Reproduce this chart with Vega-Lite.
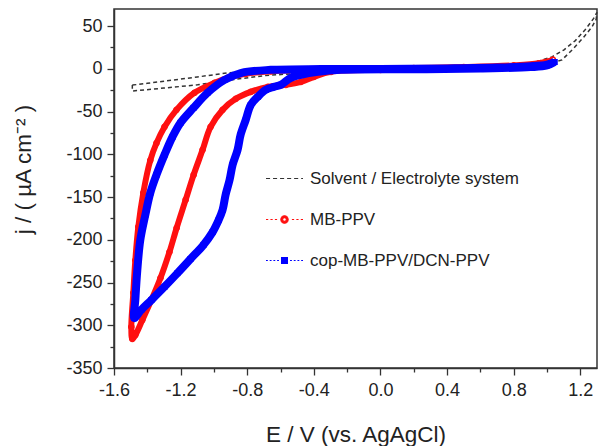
{
  "$schema": "https://vega.github.io/schema/vega-lite/v6.json",
  "width": 483,
  "height": 359,
  "autosize": {"type": "none"},
  "padding": {"left": 114, "top": 9, "right": 12, "bottom": 78},
  "background": "white",
  "config": {
    "font": "Liberation Sans",
    "view": {"stroke": "#333333", "strokeWidth": 1.5},
    "axis": {
      "grid": false,
      "domainColor": "#333333",
      "domainWidth": 1.5,
      "tickColor": "#333333",
      "tickWidth": 1.3,
      "labelColor": "#222222",
      "labelFont": "Liberation Sans",
      "labelFontSize": 18,
      "titleFont": "Liberation Sans",
      "titleFontSize": 22.5,
      "titleFontWeight": "normal",
      "titleColor": "#222222"
    },
    "legend": {"labelFont": "Liberation Sans"}
  },
  "data": {
    "values": [
      {"series": "Solvent / Electrolyte system", "k": 0, "E": -1.49, "j": -19},
      {"series": "Solvent / Electrolyte system", "k": 1, "E": -1.40, "j": -17},
      {"series": "Solvent / Electrolyte system", "k": 2, "E": -1.30, "j": -14.5},
      {"series": "Solvent / Electrolyte system", "k": 3, "E": -1.20, "j": -12},
      {"series": "Solvent / Electrolyte system", "k": 4, "E": -1.10, "j": -9.5},
      {"series": "Solvent / Electrolyte system", "k": 5, "E": -1.00, "j": -7},
      {"series": "Solvent / Electrolyte system", "k": 6, "E": -0.916, "j": -4.7},
      {"series": "Solvent / Electrolyte system", "k": 7, "E": -0.80, "j": -3},
      {"series": "Solvent / Electrolyte system", "k": 8, "E": -0.60, "j": -1.5},
      {"series": "Solvent / Electrolyte system", "k": 9, "E": -0.30, "j": -0.5},
      {"series": "Solvent / Electrolyte system", "k": 10, "E": 0.0, "j": 0.5},
      {"series": "Solvent / Electrolyte system", "k": 11, "E": 0.4, "j": 1.5},
      {"series": "Solvent / Electrolyte system", "k": 12, "E": 0.7, "j": 3},
      {"series": "Solvent / Electrolyte system", "k": 13, "E": 0.9, "j": 6},
      {"series": "Solvent / Electrolyte system", "k": 14, "E": 1.03, "j": 14},
      {"series": "Solvent / Electrolyte system", "k": 15, "E": 1.10, "j": 22},
      {"series": "Solvent / Electrolyte system", "k": 16, "E": 1.17, "j": 33},
      {"series": "Solvent / Electrolyte system", "k": 17, "E": 1.23, "j": 46},
      {"series": "Solvent / Electrolyte system", "k": 18, "E": 1.28, "j": 59},
      {"series": "Solvent / Electrolyte system", "k": 19, "E": 1.30, "j": 66},
      {"series": "Solvent / Electrolyte system", "k": 20, "E": 1.295, "j": 58},
      {"series": "Solvent / Electrolyte system", "k": 21, "E": 1.27, "j": 49},
      {"series": "Solvent / Electrolyte system", "k": 22, "E": 1.22, "j": 37},
      {"series": "Solvent / Electrolyte system", "k": 23, "E": 1.16, "j": 24},
      {"series": "Solvent / Electrolyte system", "k": 24, "E": 1.09, "j": 10.5},
      {"series": "Solvent / Electrolyte system", "k": 25, "E": 1.0, "j": 5},
      {"series": "Solvent / Electrolyte system", "k": 26, "E": 0.8, "j": 2},
      {"series": "Solvent / Electrolyte system", "k": 27, "E": 0.4, "j": 0},
      {"series": "Solvent / Electrolyte system", "k": 28, "E": 0.0, "j": -1.5},
      {"series": "Solvent / Electrolyte system", "k": 29, "E": -0.4, "j": -4},
      {"series": "Solvent / Electrolyte system", "k": 30, "E": -0.7, "j": -8},
      {"series": "Solvent / Electrolyte system", "k": 31, "E": -0.9, "j": -13},
      {"series": "Solvent / Electrolyte system", "k": 32, "E": -1.098, "j": -18.7},
      {"series": "Solvent / Electrolyte system", "k": 33, "E": -1.30, "j": -22.5},
      {"series": "Solvent / Electrolyte system", "k": 34, "E": -1.49, "j": -26},
      {"series": "Solvent / Electrolyte system", "k": 35, "E": -1.49, "j": -19},

      {"series": "MB-PPV", "k": 0, "E": 1.035, "j": 10.5},
      {"series": "MB-PPV", "k": 1, "E": 0.95, "j": 6.5},
      {"series": "MB-PPV", "k": 2, "E": 0.8, "j": 4},
      {"series": "MB-PPV", "k": 3, "E": 0.5, "j": 2},
      {"series": "MB-PPV", "k": 4, "E": 0.2, "j": 1},
      {"series": "MB-PPV", "k": 5, "E": -0.1, "j": 0.3},
      {"series": "MB-PPV", "k": 6, "E": -0.4, "j": -0.8},
      {"series": "MB-PPV", "k": 7, "E": -0.658, "j": -2.9},
      {"series": "MB-PPV", "k": 8, "E": -0.809, "j": -5.9},
      {"series": "MB-PPV", "k": 9, "E": -0.918, "j": -10.5},
      {"series": "MB-PPV", "k": 10, "E": -0.996, "j": -16.4},
      {"series": "MB-PPV", "k": 11, "E": -1.117, "j": -28},
      {"series": "MB-PPV", "k": 12, "E": -1.225, "j": -48},
      {"series": "MB-PPV", "k": 13, "E": -1.297, "j": -68},
      {"series": "MB-PPV", "k": 14, "E": -1.345, "j": -87},
      {"series": "MB-PPV", "k": 15, "E": -1.382, "j": -107},
      {"series": "MB-PPV", "k": 16, "E": -1.424, "j": -145},
      {"series": "MB-PPV", "k": 17, "E": -1.454, "j": -185},
      {"series": "MB-PPV", "k": 18, "E": -1.472, "j": -224},
      {"series": "MB-PPV", "k": 19, "E": -1.484, "j": -262},
      {"series": "MB-PPV", "k": 20, "E": -1.496, "j": -302},
      {"series": "MB-PPV", "k": 21, "E": -1.490, "j": -316},
      {"series": "MB-PPV", "k": 22, "E": -1.472, "j": -311.5},
      {"series": "MB-PPV", "k": 23, "E": -1.430, "j": -293.9},
      {"series": "MB-PPV", "k": 24, "E": -1.376, "j": -270.5},
      {"series": "MB-PPV", "k": 25, "E": -1.321, "j": -244.7},
      {"series": "MB-PPV", "k": 26, "E": -1.267, "j": -214.3},
      {"series": "MB-PPV", "k": 27, "E": -1.224, "j": -186.2},
      {"series": "MB-PPV", "k": 28, "E": -1.170, "j": -153.4},
      {"series": "MB-PPV", "k": 29, "E": -1.122, "j": -124.1},
      {"series": "MB-PPV", "k": 30, "E": -1.068, "j": -94.8},
      {"series": "MB-PPV", "k": 31, "E": -1.020, "j": -67.9},
      {"series": "MB-PPV", "k": 32, "E": -0.948, "j": -48},
      {"series": "MB-PPV", "k": 33, "E": -0.869, "j": -35.1},
      {"series": "MB-PPV", "k": 34, "E": -0.779, "j": -26.9},
      {"series": "MB-PPV", "k": 35, "E": -0.676, "j": -21.1},
      {"series": "MB-PPV", "k": 36, "E": -0.568, "j": -18.7},
      {"series": "MB-PPV", "k": 37, "E": -0.478, "j": -15.2},
      {"series": "MB-PPV", "k": 38, "E": -0.400, "j": -9.4},
      {"series": "MB-PPV", "k": 39, "E": -0.297, "j": -3.5},
      {"series": "MB-PPV", "k": 40, "E": 0.0, "j": -1.2},
      {"series": "MB-PPV", "k": 41, "E": 0.4, "j": 0},
      {"series": "MB-PPV", "k": 42, "E": 0.8, "j": 2.5},
      {"series": "MB-PPV", "k": 43, "E": 0.95, "j": 5},
      {"series": "MB-PPV", "k": 44, "E": 1.02, "j": 7.5},
      {"series": "MB-PPV", "k": 45, "E": 1.035, "j": 10.5},

      {"series": "cop-MB-PPV/DCN-PPV", "k": 0, "E": 1.045, "j": 8},
      {"series": "cop-MB-PPV/DCN-PPV", "k": 1, "E": 1.0, "j": 5},
      {"series": "cop-MB-PPV/DCN-PPV", "k": 2, "E": 0.9, "j": 3},
      {"series": "cop-MB-PPV/DCN-PPV", "k": 3, "E": 0.7, "j": 1.5},
      {"series": "cop-MB-PPV/DCN-PPV", "k": 4, "E": 0.4, "j": 0.5},
      {"series": "cop-MB-PPV/DCN-PPV", "k": 5, "E": 0.0, "j": -0.3},
      {"series": "cop-MB-PPV/DCN-PPV", "k": 6, "E": -0.357, "j": -0.3},
      {"series": "cop-MB-PPV/DCN-PPV", "k": 7, "E": -0.659, "j": -1.2},
      {"series": "cop-MB-PPV/DCN-PPV", "k": 8, "E": -0.834, "j": -4.7},
      {"series": "cop-MB-PPV/DCN-PPV", "k": 9, "E": -0.936, "j": -12.9},
      {"series": "cop-MB-PPV/DCN-PPV", "k": 10, "E": -1.039, "j": -28.1},
      {"series": "cop-MB-PPV/DCN-PPV", "k": 11, "E": -1.123, "j": -45.7},
      {"series": "cop-MB-PPV/DCN-PPV", "k": 12, "E": -1.201, "j": -63.2},
      {"series": "cop-MB-PPV/DCN-PPV", "k": 13, "E": -1.249, "j": -79.6},
      {"series": "cop-MB-PPV/DCN-PPV", "k": 14, "E": -1.297, "j": -100.7},
      {"series": "cop-MB-PPV/DCN-PPV", "k": 15, "E": -1.345, "j": -124.1},
      {"series": "cop-MB-PPV/DCN-PPV", "k": 16, "E": -1.382, "j": -145.2},
      {"series": "cop-MB-PPV/DCN-PPV", "k": 17, "E": -1.412, "j": -171},
      {"series": "cop-MB-PPV/DCN-PPV", "k": 18, "E": -1.442, "j": -200.2},
      {"series": "cop-MB-PPV/DCN-PPV", "k": 19, "E": -1.460, "j": -235.4},
      {"series": "cop-MB-PPV/DCN-PPV", "k": 20, "E": -1.472, "j": -270.5},
      {"series": "cop-MB-PPV/DCN-PPV", "k": 21, "E": -1.478, "j": -291.6},
      {"series": "cop-MB-PPV/DCN-PPV", "k": 22, "E": -1.436, "j": -282},
      {"series": "cop-MB-PPV/DCN-PPV", "k": 23, "E": -1.376, "j": -270.5},
      {"series": "cop-MB-PPV/DCN-PPV", "k": 24, "E": -1.297, "j": -255},
      {"series": "cop-MB-PPV/DCN-PPV", "k": 25, "E": -1.219, "j": -239},
      {"series": "cop-MB-PPV/DCN-PPV", "k": 26, "E": -1.141, "j": -222.5},
      {"series": "cop-MB-PPV/DCN-PPV", "k": 27, "E": -1.063, "j": -206},
      {"series": "cop-MB-PPV/DCN-PPV", "k": 28, "E": -1.008, "j": -191},
      {"series": "cop-MB-PPV/DCN-PPV", "k": 29, "E": -0.972, "j": -177},
      {"series": "cop-MB-PPV/DCN-PPV", "k": 30, "E": -0.948, "j": -165},
      {"series": "cop-MB-PPV/DCN-PPV", "k": 31, "E": -0.930, "j": -147.5},
      {"series": "cop-MB-PPV/DCN-PPV", "k": 32, "E": -0.906, "j": -130},
      {"series": "cop-MB-PPV/DCN-PPV", "k": 33, "E": -0.888, "j": -112.4},
      {"series": "cop-MB-PPV/DCN-PPV", "k": 34, "E": -0.858, "j": -94.8},
      {"series": "cop-MB-PPV/DCN-PPV", "k": 35, "E": -0.840, "j": -77.3},
      {"series": "cop-MB-PPV/DCN-PPV", "k": 36, "E": -0.809, "j": -59.7},
      {"series": "cop-MB-PPV/DCN-PPV", "k": 37, "E": -0.779, "j": -42.2},
      {"series": "cop-MB-PPV/DCN-PPV", "k": 38, "E": -0.737, "j": -32.8},
      {"series": "cop-MB-PPV/DCN-PPV", "k": 39, "E": -0.689, "j": -24.6},
      {"series": "cop-MB-PPV/DCN-PPV", "k": 40, "E": -0.640, "j": -21.1},
      {"series": "cop-MB-PPV/DCN-PPV", "k": 41, "E": -0.598, "j": -18.7},
      {"series": "cop-MB-PPV/DCN-PPV", "k": 42, "E": -0.538, "j": -10.5},
      {"series": "cop-MB-PPV/DCN-PPV", "k": 43, "E": -0.478, "j": -7},
      {"series": "cop-MB-PPV/DCN-PPV", "k": 44, "E": -0.375, "j": -3.5},
      {"series": "cop-MB-PPV/DCN-PPV", "k": 45, "E": -0.237, "j": -1.2},
      {"series": "cop-MB-PPV/DCN-PPV", "k": 46, "E": 0.2, "j": -0.5},
      {"series": "cop-MB-PPV/DCN-PPV", "k": 47, "E": 0.6, "j": 0.5},
      {"series": "cop-MB-PPV/DCN-PPV", "k": 48, "E": 0.9, "j": 2},
      {"series": "cop-MB-PPV/DCN-PPV", "k": 49, "E": 1.0, "j": 4},
      {"series": "cop-MB-PPV/DCN-PPV", "k": 50, "E": 1.045, "j": 8}
    ]
  },
  "encoding": {
    "x": {
      "field": "E",
      "type": "quantitative",
      "scale": {"domain": [-1.6, 1.3], "nice": false, "zero": false},
      "axis": {
        "title": "E / V (vs. AgAgCl)",
        "values": [-1.6, -1.4, -1.2, -1.0, -0.8, -0.6, -0.4, -0.2, 0, 0.2, 0.4, 0.6, 0.8, 1.0, 1.2],
        "labelExpr": "abs(round(datum.value * 10)) % 4 === 0 ? replace(format(datum.value, '.1f'), '−', '-') : ''",
        "tickSize": {"condition": {"test": "abs(round(datum.value * 10)) % 4 === 0", "value": 7}, "value": 4},
        "labelPadding": 6,
        "labelFlush": false,
        "labelOverlap": false,
        "titleY": 55
      }
    },
    "y": {
      "field": "j",
      "type": "quantitative",
      "scale": {"domain": [-350, 70], "nice": false, "zero": false},
      "axis": {
        "title": "j / ( µA cm⁻² )",
        "values": [-350, -325, -300, -275, -250, -225, -200, -175, -150, -125, -100, -75, -50, -25, 0, 25, 50],
        "labelExpr": "abs(datum.value) % 50 === 0 ? replace(format(datum.value, 'd'), '−', '-') : ''",
        "tickSize": {"condition": {"test": "abs(datum.value) % 50 === 0", "value": 7}, "value": 4},
        "labelPadding": 5,
        "labelFlush": false,
        "labelOverlap": false,
        "titleX": -79,
        "titleY": 160
      }
    },
    "color": {
      "field": "series",
      "type": "nominal",
      "scale": {
        "domain": ["Solvent / Electrolyte system", "MB-PPV", "cop-MB-PPV/DCN-PPV"],
        "range": ["#333333", "#ff1010", "#0000ff"]
      },
      "legend": {
        "title": null,
        "orient": "none",
        "legendX": 151,
        "legendY": 150,
        "padding": 0,
        "symbolSize": 1369,
        "symbolStrokeWidth": 1.1,
        "labelFontSize": 17,
        "labelColor": "#222222",
        "labelLimit": 400,
        "labelOffset": 6,
        "rowPadding": 13,
        "encode": {
          "symbols": {
            "update": {
              "shape": {"signal": "datum.value === 'MB-PPV' ? 'M-1,0h0.12M-0.76,0h0.12M-0.52,0h0.12M0.4,0h0.12M0.64,0h0.12M0.88,0h0.12M0.2,0A0.2,0.2 0 1 1 -0.2,0A0.2,0.2 0 1 1 0.2,0ZM0.1,0A0.1,0.1 0 1 0 -0.1,0A0.1,0.1 0 1 0 0.1,0Z' : datum.value === 'cop-MB-PPV/DCN-PPV' ? 'M-1,0h0.1M-0.8,0h0.1M-0.6,0h0.1M-0.4,0h0.1M0.3,0h0.1M0.5,0h0.1M0.7,0h0.1M0.9,0h0.1M-0.16,-0.16H0.16V0.16H-0.16Z' : 'M-1,0h0.22M-0.62,0h0.22M-0.24,0h0.22M0.14,0h0.22M0.52,0h0.22M0.9,0h0.1'"},
              "stroke": {"signal": "datum.value === 'MB-PPV' ? '#ff1010' : datum.value === 'cop-MB-PPV/DCN-PPV' ? '#0000ff' : '#333333'"},
              "strokeDash": {"value": []},
              "strokeWidth": {"value": 1.1},
              "opacity": {"value": 1}
            }
          }
        }
      }
    }
  },
  "layer": [
    {
      "transform": [{"filter": "datum.series === 'Solvent / Electrolyte system'"}],
      "mark": {"type": "line", "strokeDash": [4, 3], "strokeWidth": 1.5},
      "encoding": {"order": {"field": "k", "type": "quantitative"}}
    },
    {
      "transform": [{"filter": "datum.series === 'MB-PPV'"}],
      "mark": {"type": "line", "strokeWidth": 6, "interpolate": "catmull-rom"},
      "encoding": {"order": {"field": "k", "type": "quantitative"}}
    },
    {
      "transform": [{"filter": "datum.series === 'MB-PPV'"}],
      "mark": {"type": "point", "shape": "circle", "filled": false, "size": 30, "strokeWidth": 1.2, "opacity": 1}
    },
    {
      "transform": [{"filter": "datum.series === 'cop-MB-PPV/DCN-PPV'"}],
      "mark": {"type": "line", "strokeWidth": 8, "interpolate": "catmull-rom"},
      "encoding": {"order": {"field": "k", "type": "quantitative"}}
    },
    {
      "transform": [{"filter": "datum.series === 'cop-MB-PPV/DCN-PPV'"}],
      "mark": {"type": "point", "shape": "square", "filled": true, "size": 36, "opacity": 1}
    }
  ]
}
